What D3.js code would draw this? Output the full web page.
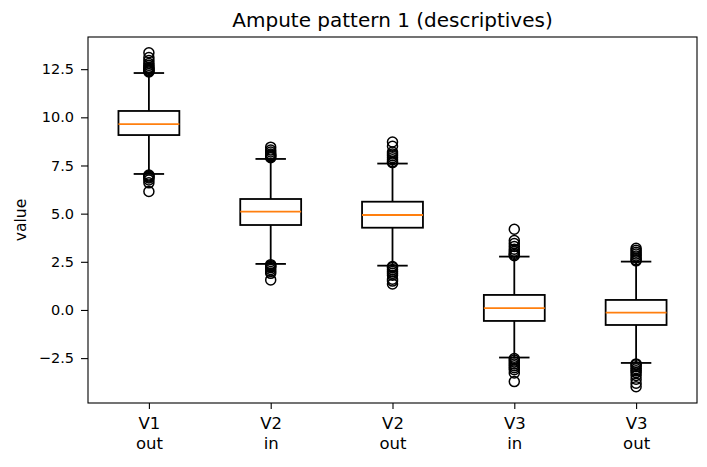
<!DOCTYPE html>
<html>
<head>
<meta charset="utf-8">
<script src="https://cdn.jsdelivr.net/npm/d3@7"></script>
<style>
  body { margin: 0; background: #fff; }
  svg text { font-family: "DejaVu Sans", sans-serif; fill: #000; }
</style>
</head>
<body>
<svg id="chart" width="707" height="467"></svg>
<script>
// box statistics
let categories = ["V1\nout", "V2\nin", "V2\nout", "V3\nin", "V3\nout"];
let q1 = [9.08, 4.41, 4.27, -0.57, -0.78];
let medians = [9.65, 5.10, 4.93, 0.10, -0.14];
let q3 = [10.33, 5.76, 5.62, 0.78, 0.52];
let whiskLow = [7.06, 2.39, 2.30, -2.47, -2.75];
let whiskHigh = [12.30, 7.84, 7.60, 2.77, 2.51];
let fliers = [
  [12.35, 12.4, 12.45, 12.5, 12.55, 12.6, 12.7, 12.8, 12.95, 13.1, 13.35,
   7.0, 6.95, 6.9, 6.85, 6.75, 6.6, 6.15],
  [7.9, 7.95, 8.0, 8.05, 8.1, 8.2, 8.3, 8.45,
   2.35, 2.3, 2.25, 2.2, 2.1, 2.0, 1.9, 1.56],
  [7.65, 7.7, 7.8, 7.9, 8.0, 8.1, 8.2, 8.5, 8.72,
   2.25, 2.2, 2.1, 2.0, 1.9, 1.8, 1.6, 1.5, 1.35],
  [2.82, 2.88, 2.95, 3.05, 3.15, 3.3, 3.45, 3.6, 4.19,
   -2.52, -2.6, -2.7, -2.8, -2.9, -3.0, -3.1, -3.27, -3.72],
  [2.55, 2.6, 2.7, 2.8, 2.9, 3.0, 3.1, 3.2,
   -2.8, -2.85, -2.95, -3.05, -3.15, -3.25, -3.4, -3.6, -3.8, -3.98]
];
let yTicks = [-2.5, 0.0, 2.5, 5.0, 7.5, 10.0, 12.5];

let margin = {left: 88, top: 37, right: 10, bottom: 64},
  width = 707 - margin.left - margin.right,
  height = 467 - margin.top - margin.bottom;

let svg = d3.select("#chart");
let g = svg.append("g").attr("transform", "translate(" + margin.left + "," + margin.top + ")");

let x = d3.scaleLinear().domain([0.5, 5.5]).range([0, width]);
let y = d3.scaleLinear().domain([-4.83, 14.17]).range([height, 0]);

let boxW = x(1.25) - x(1);
let capW = x(1.125) - x(1);
let lw = 1.8;

// boxes
categories.forEach(function(c, i) {
  let cx = x(i + 1);
  let b = g.append("g").attr("class", "box");
  // whiskers
  b.append("line").attr("x1", cx).attr("x2", cx).attr("y1", y(q3[i])).attr("y2", y(whiskHigh[i]))
    .attr("stroke", "#000").attr("stroke-width", lw);
  b.append("line").attr("x1", cx).attr("x2", cx).attr("y1", y(q1[i])).attr("y2", y(whiskLow[i]))
    .attr("stroke", "#000").attr("stroke-width", lw);
  // caps
  [whiskHigh[i], whiskLow[i]].forEach(function(v) {
    b.append("line").attr("x1", cx - capW).attr("x2", cx + capW).attr("y1", y(v)).attr("y2", y(v))
      .attr("stroke", "#000").attr("stroke-width", lw);
  });
  b.append("rect")
    .attr("x", cx - boxW).attr("width", boxW * 2)
    .attr("y", y(q3[i])).attr("height", y(q1[i]) - y(q3[i]))
    .attr("fill", "none").attr("stroke", "#000").attr("stroke-width", lw);
  b.append("line").attr("x1", cx - boxW).attr("x2", cx + boxW).attr("y1", y(medians[i])).attr("y2", y(medians[i]))
    .attr("stroke", "#ff7f0e").attr("stroke-width", lw);
  b.selectAll("circle").data(fliers[i]).enter().append("circle")
    .attr("cx", cx).attr("cy", function(d) { return y(d); })
    .attr("r", 5).attr("fill", "none").attr("stroke", "#000").attr("stroke-width", 1.5);
});

// axes
let yAxis = g.append("g").call(d3.axisLeft(y).tickValues(yTicks).tickSizeOuter(0).tickSize(7).tickPadding(7)
  .tickFormat(function(d) { return d3.format(".1f")(d).replace("-", "\u2212"); }));
let xAxis = g.append("g").attr("transform", "translate(0," + height + ")")
  .call(d3.axisBottom(x).tickValues([1, 2, 3, 4, 5]).tickFormat("").tickSizeOuter(0).tickSize(6));
[yAxis, xAxis].forEach(function(a) {
  a.select(".domain").remove();
  a.selectAll("line").attr("stroke", "#000").attr("stroke-width", 1.1);
  a.selectAll("text").style("font-size", "14.5px").style("font-family", "DejaVu Sans").attr("fill", "#000");
});

// x tick labels on two lines
xAxis.selectAll(".tick").each(function(d, i) {
  let t = d3.select(this).append("text").attr("fill", "#000").attr("text-anchor", "middle")
    .style("font-size", "16.5px");
  categories[i].split("\n").forEach(function(line, k) {
    t.append("tspan").attr("x", 0).attr("y", 26 + k * 20).text(line);
  });
});

// frame
g.append("rect").attr("width", width).attr("height", height)
  .attr("fill", "none").attr("stroke", "#000").attr("stroke-width", 1.1);

// title and y label
svg.append("text").attr("x", margin.left + width / 2).attr("y", 27)
  .attr("text-anchor", "middle").style("font-size", "20px").text("Ampute pattern 1 (descriptives)");
svg.append("text").attr("transform", "translate(26," + (margin.top + height / 2) + ") rotate(-90)")
  .attr("text-anchor", "middle").style("font-size", "15.5px").text("value");
</script>
</body>
</html>
